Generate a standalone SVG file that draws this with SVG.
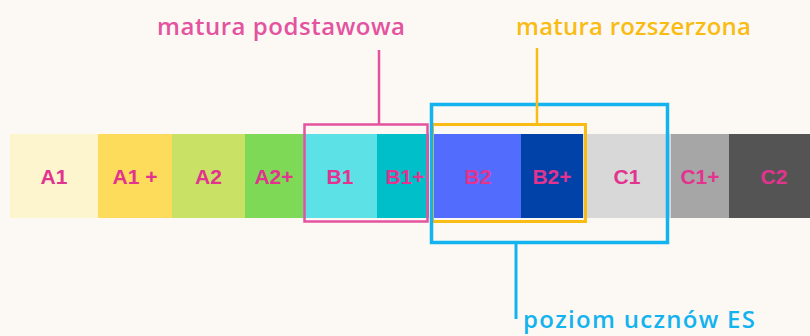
<svg xmlns="http://www.w3.org/2000/svg" width="810" height="336" viewBox="0 0 810 336">
<style>
.lvl{font-family:"Liberation Sans",Arial,sans-serif;font-weight:700;font-size:21px;fill:#E2338F;text-anchor:middle}
.cap{font-family:"Open Sans","Liberation Sans",sans-serif;font-weight:600;font-size:24px}
.box{fill:none}
</style>
<rect width="810" height="336" fill="#FCF9F5"/>
<g id="bar">
<g id="A1"><rect x="10" y="134" width="88" height="84" fill="#FDF5CE"/><text class="lvl" x="54" y="183.5">A1</text></g>
<g id="A1plus"><rect x="98" y="134" width="74" height="84" fill="#FDDC5C"/><text class="lvl" x="135" y="183.5">A1 +</text></g>
<g id="A2"><rect x="172" y="134" width="73" height="84" fill="#C9E265"/><text class="lvl" x="208.5" y="183.5">A2</text></g>
<g id="A2plus"><rect x="245" y="134" width="58" height="84" fill="#7ED957"/><text class="lvl" x="274" y="183.5">A2+</text></g>
<g id="B1"><rect x="303" y="134" width="74" height="84" fill="#5CE1E6"/><text class="lvl" x="340" y="183.5">B1</text></g>
<g id="B1plus"><rect x="377" y="134" width="52" height="84" fill="#00BFC8"/><text class="lvl" x="405" y="183.5">B1+</text></g>
<g id="B2"><rect x="432" y="134" width="89" height="84" fill="#526CFE"/><text class="lvl" x="478" y="183.5">B2</text></g>
<g id="B2plus"><rect x="521" y="134" width="62" height="84" fill="#0042A8"/><text class="lvl" x="552" y="183.5">B2+</text></g>
<g id="C1"><rect x="583" y="134" width="88" height="84" fill="#D8D8D8"/><text class="lvl" x="627" y="183.5">C1</text></g>
<g id="C1plus"><rect x="671" y="134" width="58" height="84" fill="#A6A6A6"/><text class="lvl" x="700" y="183.5">C1+</text></g>
<g id="C2"><rect x="729" y="134" width="81" height="84" fill="#545454"/><text class="lvl" x="774" y="183.5">C2</text></g>
</g>
<g id="podstawowa">
<rect class="box" x="304.5" y="124.5" width="123" height="97" stroke="#E4539F" stroke-width="2.5"/>
<text class="cap" x="157" y="35" fill="#E4539F" textLength="248" lengthAdjust="spacing">matura podstawowa</text>
</g>
<g id="rozszerzona">
<rect class="box" x="432.5" y="124.5" width="153" height="97" stroke="#F9BC15" stroke-width="3"/>
<text class="cap" x="516" y="35" fill="#F9BC15" textLength="235" lengthAdjust="spacing">matura rozszerzona</text>
</g>
<g id="uczniowie">
<rect class="box" x="431.5" y="104.5" width="236" height="138" stroke="#12B3EE" stroke-width="3.5"/>
<text class="cap" x="523" y="328" fill="#12B3EE" textLength="232" lengthAdjust="spacing">poziom ucznów ES</text>
</g>
<g id="connectors" stroke-width="2.5" fill="none">
<line x1="379" y1="50" x2="379" y2="124" stroke="#E4539F"/>
<line x1="537" y1="48" x2="537" y2="124" stroke="#F9BC15"/>
<line x1="516" y1="243" x2="516" y2="319" stroke="#12B3EE" stroke-width="3"/>
</g>
</svg>
